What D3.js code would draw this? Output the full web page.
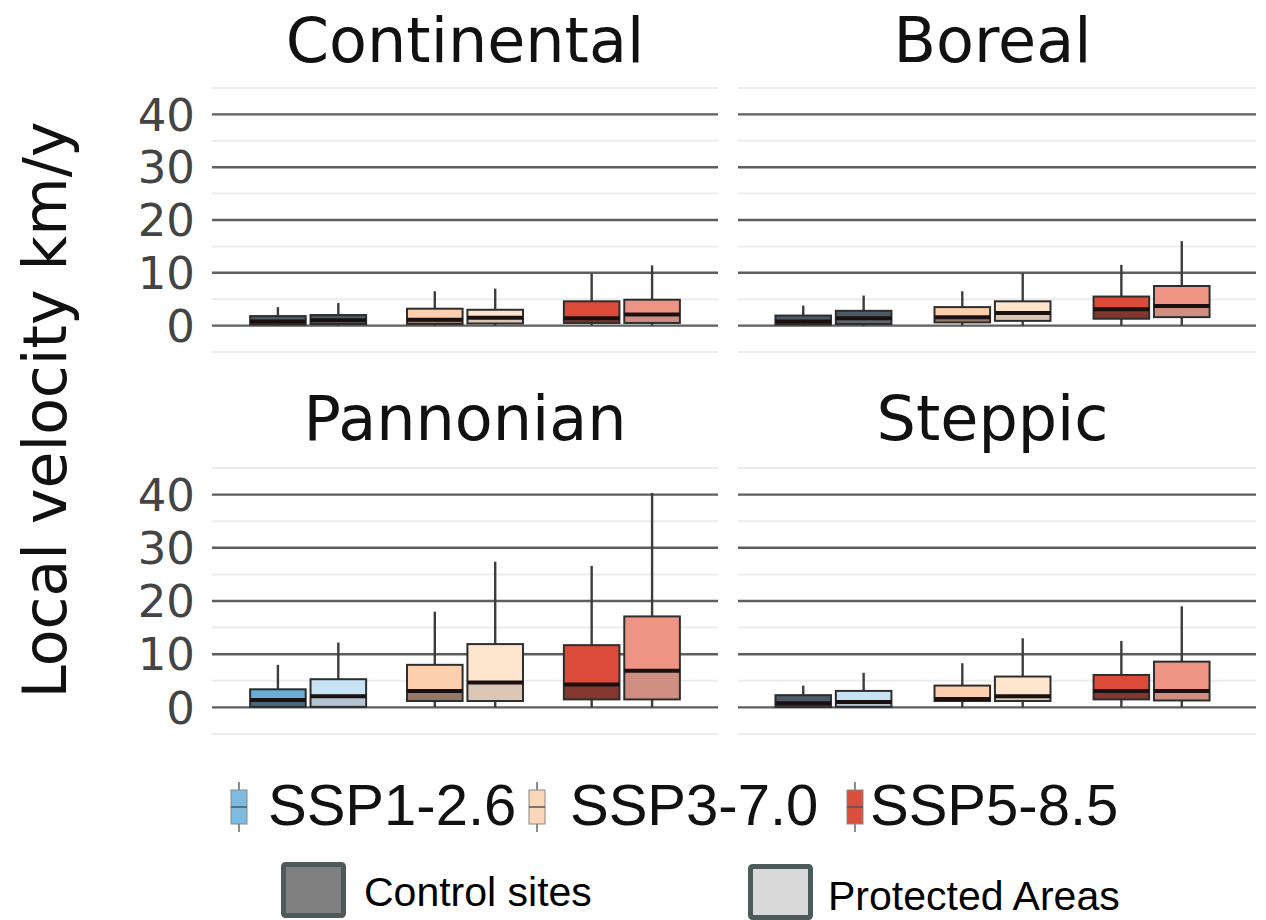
<!DOCTYPE html>
<html>
<head>
<meta charset="utf-8">
<script src="https://cdn.jsdelivr.net/npm/d3@7"></script>
<style>
  body { margin: 0; background: #fff; }
  svg { display: block; }
</style>
</head>
<body>
<div id="chart"></div>
<script>
// ---- data ----
var regions = ["Continental", "Boreal", "Pannonian", "Steppic"];
var scenarios = ["SSP1-2.6", "SSP3-7.0", "SSP5-8.5"];
var sites = ["Control sites", "Protected Areas"];
var yTicks = [0, 10, 20, 30, 40];

// each row: [lower whisker, q1, median, q3, upper whisker]
// order: SSP1 control, SSP1 protected, SSP3 control, SSP3 protected, SSP5 control, SSP5 protected
var continental = [
  [0, 0.2, 0.8, 1.8, 3.5],
  [0, 0.3, 1.0, 2.0, 4.3],
  [0, 0.3, 1.1, 3.2, 6.5],
  [0, 0.4, 1.5, 3.0, 7.0],
  [0, 0.5, 1.4, 4.6, 9.8],
  [0, 0.5, 2.1, 4.9, 11.4]
];
var boreal = [
  [0, 0.2, 0.8, 1.9, 3.8],
  [0, 0.3, 1.4, 2.8, 5.7],
  [0, 0.6, 1.6, 3.5, 6.5],
  [0, 0.9, 2.4, 4.6, 9.9],
  [0, 1.3, 3.1, 5.5, 11.5],
  [0, 1.6, 3.7, 7.5, 16.0]
];
var pannonian = [
  [0, 0.1, 1.4, 3.4, 8.0],
  [0, 0.1, 2.1, 5.3, 12.2],
  [0, 1.2, 3.1, 8.0, 18.0],
  [0, 1.2, 4.7, 11.9, 27.4],
  [0, 1.5, 4.3, 11.7, 26.6],
  [0, 1.5, 6.9, 17.1, 40.3]
];
var steppic = [
  [0, 0.1, 0.8, 2.3, 4.1],
  [0, 0.1, 1.0, 3.1, 6.5],
  [0, 1.2, 1.6, 4.1, 8.3],
  [0, 1.2, 2.1, 5.8, 13.0],
  [0, 1.5, 3.1, 6.1, 12.5],
  [0, 1.3, 3.1, 8.6, 19.0]
];
var regionData = [continental, boreal, pannonian, steppic];

// ---- styles ----
var fills = {
  "SSP1-2.6": ["#6aaed6", "#c6e2f3"],
  "SSP3-7.0": ["#fcd0ae", "#fde4cd"],
  "SSP5-8.5": ["#dc4b3a", "#ee9484"]
};
var keyFill = { "SSP1-2.6": "#7dbbe0", "SSP3-7.0": "#fbd7ba", "SSP5-8.5": "#d9503f" };
var slate = "#4e5b66";
// which SSP1 boxes look slate-dark in the picture [control, protected]
var slateSSP1 = { Continental: [true, true], Boreal: [true, true], Pannonian: [false, false], Steppic: [true, false] };

var W = 1266, H = 920;
var svg = d3.select("#chart").append("svg").attr("width", W).attr("height", H);

var panels = [
  { x0: 214, x1: 716, gx0: 212, gx1: 718, y0: 352, y1: 88, titleY: 62 },
  { x0: 738, x1: 1247, gx0: 738, gx1: 1256, y0: 352, y1: 88, titleY: 62 },
  { x0: 214, x1: 716, gx0: 212, gx1: 718, y0: 734, y1: 468, titleY: 440 },
  { x0: 738, x1: 1247, gx0: 738, gx1: 1256, y0: 734, y1: 468, titleY: 440 }
];

regions.forEach(function (region, p) {
  var pn = panels[p];
  var y = d3.scaleLinear().domain([-5, 45]).range([pn.y0, pn.y1]);
  var x = d3.scaleBand().domain(scenarios).range([pn.x0, pn.x1]).paddingInner(0).paddingOuter(0.1);
  var xs = d3.scaleBand().domain(sites).range([-58, 58]).paddingInner(0.08);
  var g = svg.append("g");

  // minor grid
  g.selectAll("line.minor").data([-5, 5, 15, 25, 35, 45]).enter().append("line")
    .attr("x1", pn.gx0).attr("x2", pn.gx1)
    .attr("y1", function (d) { return y(d); }).attr("y2", function (d) { return y(d); })
    .attr("stroke", "#ececec").attr("stroke-width", 2);
  // major grid
  g.selectAll("line.major").data(yTicks).enter().append("line")
    .attr("x1", pn.gx0).attr("x2", pn.gx1)
    .attr("y1", function (d) { return y(d); }).attr("y2", function (d) { return y(d); })
    .attr("stroke", "#5e5e5e").attr("stroke-width", 2.4);

  // title
  svg.append("text")
    .attr("x", (pn.x0 + pn.x1) / 2).attr("y", pn.titleY)
    .attr("text-anchor", "middle")
    .attr("font-family", "DejaVu Sans").attr("font-size", 62)
    .attr("fill", "#111")
    .text(region);

  // y tick labels on left panels
  if (p % 2 === 0) {
    g.selectAll("text.tick").data(yTicks).enter().append("text")
      .attr("x", 195).attr("y", function (d) { return y(d); })
      .attr("dy", "0.36em")
      .attr("text-anchor", "end")
      .attr("font-family", "DejaVu Sans").attr("font-size", 45)
      .attr("fill", "#444")
      .text(function (d) { return d; });
  }

  var boxes = regionData[p].map(function (v, i) {
    var sc = scenarios[Math.floor(i / 2)], st = i % 2;
    var col = fills[sc][st];
    if (sc === "SSP1-2.6" && slateSSP1[region][st]) col = slate;
    return { sc: sc, site: sites[st], st: st, v: v, col: col };
  });

  var bg = g.selectAll("g.box").data(boxes).enter().append("g")
    .attr("transform", function (d) { return "translate(" + (x(d.sc) + x.bandwidth() / 2) + ",0)"; });

  var bw = xs.bandwidth();
  function cx(d) { return xs(d.site) + bw / 2; }

  // whiskers
  bg.append("line")
    .attr("x1", cx).attr("x2", cx)
    .attr("y1", function (d) { return y(d.v[4]); }).attr("y2", function (d) { return y(d.v[3]); })
    .attr("stroke", "#3d3d3d").attr("stroke-width", 2.4);
  bg.append("line")
    .attr("x1", cx).attr("x2", cx)
    .attr("y1", function (d) { return y(d.v[1]); }).attr("y2", function (d) { return y(d.v[0]); })
    .attr("stroke", "#3d3d3d").attr("stroke-width", 2.4);
  // upper part of box
  bg.append("rect")
    .attr("x", function (d) { return xs(d.site); }).attr("width", bw)
    .attr("y", function (d) { return y(d.v[3]); })
    .attr("height", function (d) { return y(d.v[2]) - y(d.v[3]); })
    .attr("fill", function (d) { return d.col; });
  // lower part of box (darker, as in the picture)
  bg.append("rect")
    .attr("x", function (d) { return xs(d.site); }).attr("width", bw)
    .attr("y", function (d) { return y(d.v[2]); })
    .attr("height", function (d) { return y(d.v[1]) - y(d.v[2]); })
    .attr("fill", function (d) {
      return d.st === 0 ? d3.interpolateRgb(d.col, "#2b2222")(0.5) : d3.interpolateRgb(d.col, "#8a7f80")(0.3);
    });
  // outline
  bg.append("rect")
    .attr("x", function (d) { return xs(d.site); }).attr("width", bw)
    .attr("y", function (d) { return y(d.v[3]); })
    .attr("height", function (d) { return y(d.v[1]) - y(d.v[3]); })
    .attr("fill", "none").attr("stroke", "#2e2e2e").attr("stroke-width", 2);
  // median
  bg.append("line")
    .attr("x1", function (d) { return xs(d.site); }).attr("x2", function (d) { return xs(d.site) + bw; })
    .attr("y1", function (d) { return y(d.v[2]); }).attr("y2", function (d) { return y(d.v[2]); })
    .attr("stroke", "#1a1010").attr("stroke-width", 4);
});

// y axis title
svg.append("text")
  .attr("transform", "translate(66,410) rotate(-90)")
  .attr("text-anchor", "middle")
  .attr("font-family", "DejaVu Sans").attr("font-size", 60)
  .attr("fill", "#111")
  .text("Local velocity km/y");

// scenario legend
var legX = [239, 537, 855];
var legTextX = [268, 570, 870];
var leg = svg.append("g");
scenarios.forEach(function (s, i) {
  var k = leg.append("g").attr("transform", "translate(" + legX[i] + ",0)");
  k.append("line").attr("x1", 0).attr("x2", 0).attr("y1", 782).attr("y2", 832)
    .attr("stroke", "#666").attr("stroke-width", 1.5);
  k.append("rect").attr("x", -8).attr("y", 790).attr("width", 16).attr("height", 34)
    .attr("fill", keyFill[s]).attr("stroke", "#888").attr("stroke-width", 1);
  k.append("line").attr("x1", -8).attr("x2", 8).attr("y1", 807).attr("y2", 807)
    .attr("stroke", "#555").attr("stroke-width", 1.5);
  leg.append("text")
    .attr("x", legTextX[i]).attr("y", 825)
    .attr("font-family", "Liberation Sans, Arial, sans-serif").attr("font-size", 58)
    .attr("fill", "#111")
    .text(s);
});

// site legend
var siteLeg = [
  { x: 281, y: 862, fill: "#808080", tx: 364, ty: 906 },
  { x: 748, y: 864, fill: "#d9d9d9", tx: 828, ty: 910 }
];
siteLeg.forEach(function (d, i) {
  svg.append("rect")
    .attr("x", d.x + 2.5).attr("y", d.y + 2.5).attr("width", 60).attr("height", 51)
    .attr("fill", d.fill).attr("stroke", "#4c5a5a").attr("stroke-width", 5).attr("rx", 2);
  svg.append("text")
    .attr("x", d.tx).attr("y", d.ty)
    .attr("font-family", "Liberation Sans, Arial, sans-serif").attr("font-size", 41)
    .attr("fill", "#000")
    .text(sites[i]);
});
</script>
</body>
</html>
